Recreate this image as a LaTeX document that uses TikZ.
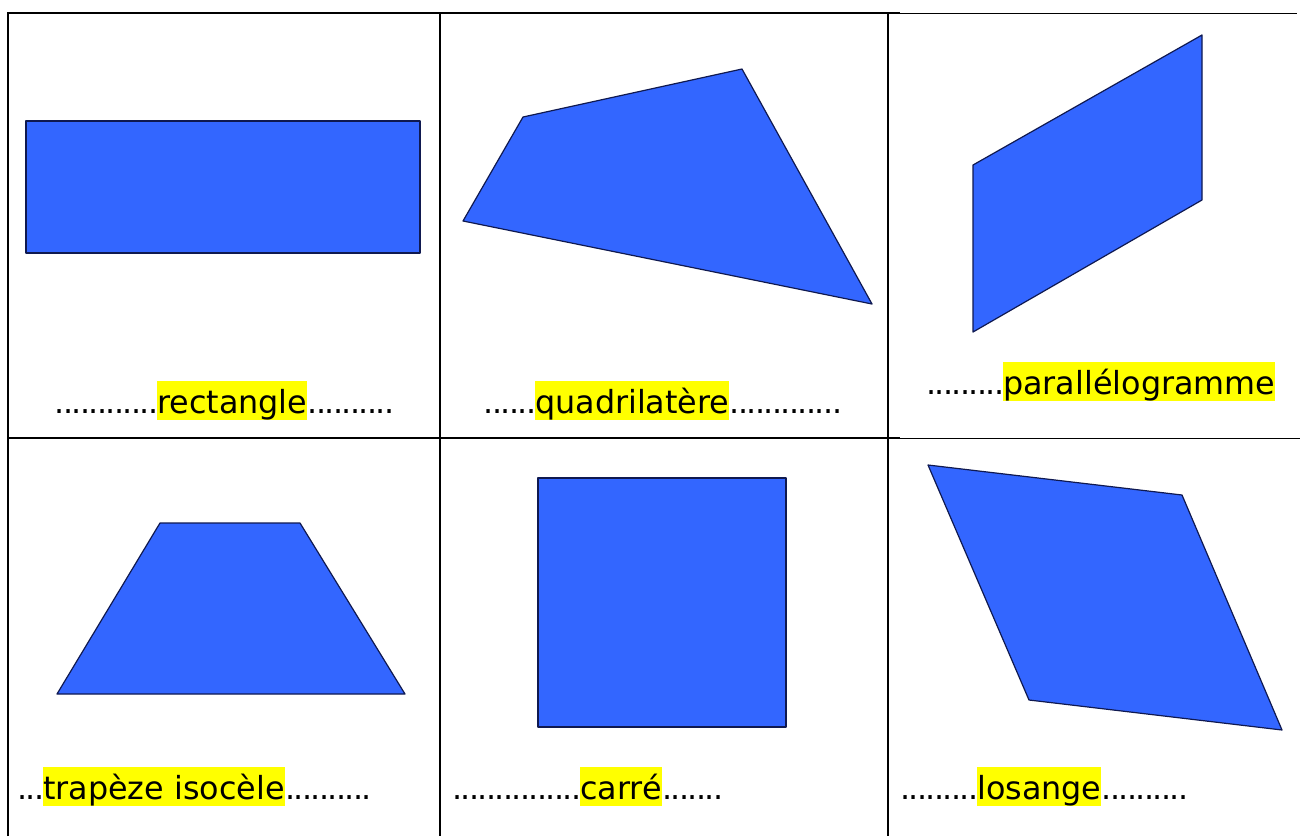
\documentclass[tikz,border=0pt]{standalone}
\usepackage{fontspec}
\setmainfont{DejaVu Sans}
\definecolor{shapeblue}{RGB}{51,102,255}
\definecolor{hlyellow}{RGB}{255,255,0}
\definecolor{shapeedge}{RGB}{15,25,80}
\newcommand\dts[1]{\foreach\i in {1,...,#1}{.\kern-1.6pt}}
\begin{document}
\begin{tikzpicture}[x=1pt,y=-1pt,
  lbl/.style={font=\fontsize{31.8}{38}\selectfont, inner sep=0pt, text=black},
  word/.style={lbl, fill=hlyellow, text height=32pt, text depth=7pt, anchor=base west},
  dotsl/.style={lbl, anchor=base east},
  dotsr/.style={lbl, anchor=base west},
  shp/.style={fill=shapeblue, draw=shapeedge, line width=1.2pt, line join=round},
  gridline/.style={line width=2.2pt, black},
  thinline/.style={line width=1pt, black}]
\useasboundingbox (0,0) rectangle (1300,836);
% grid
\draw[gridline] (8,836) -- (8,13) -- (900,13);
\draw[thinline] (900,13) -- (1297,13);
\draw[gridline] (440,13) -- (440,836);
\draw[gridline] (888,13) -- (888,836);
\draw[gridline] (8,438) -- (900,438);
\draw[thinline] (900,438) -- (1300,438);
% shapes
\draw[shp] (26,121) rectangle (420,253);
\draw[shp] (523,117) -- (742,69) -- (872,304) -- (463,221) -- cycle;
\draw[shp] (973,165) -- (1202,35) -- (1202,200) -- (973,332) -- cycle;
\draw[shp] (160,523) -- (300,523) -- (405,694) -- (57,694) -- cycle;
\draw[shp] (538,478) rectangle (786,727);
\draw[shp] (928,465) -- (1182,495) -- (1282,730) -- (1029,700) -- cycle;
% labels
\node[word] (w1) at (157,413) {rectangle};
\node[dotsl] (w1a) at (w1.base west) {\dts{12}};
\node[dotsr] (w1b) at (w1.base east) {\dts{10}};
\node[word] (w2) at (535,413) {quadrilatère};
\node[dotsl] (w2a) at (w2.base west) {\dts{6}};
\node[dotsr] (w2b) at (w2.base east) {\dts{13}};
\node[word] (w3) at (1003,394) {parallélogramme};
\node[dotsl] (w3a) at (w3.base west) {\dts{9}};
\node[word] (w4) at (43,799) {trapèze isocèle};
\node[dotsl] (w4a) at (w4.base west) {\dts{3}};
\node[dotsr] (w4b) at (w4.base east) {\dts{10}};
\node[word] (w5) at (580,799) {carré};
\node[dotsl] (w5a) at (w5.base west) {\dts{15}};
\node[dotsr] (w5b) at (w5.base east) {\dts{7}};
\node[word] (w6) at (977,799) {losange};
\node[dotsl] (w6a) at (w6.base west) {\dts{9}};
\node[dotsr] (w6b) at (w6.base east) {\dts{10}};
\end{tikzpicture}
\end{document}
